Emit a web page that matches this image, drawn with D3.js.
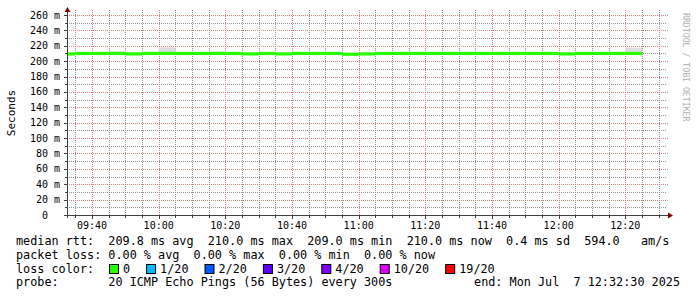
<!DOCTYPE html>
<html>
<head>
<meta charset="utf-8">
<script src="https://cdn.jsdelivr.net/npm/d3@7"></script>
<style>
body{margin:0;background:#fff;}
svg text{font-family:'DejaVu Sans Mono',monospace;white-space:pre;fill:#000;}
</style>
</head>
<body>
<div class="chart"></div>
<script>
// 5 minute slots (start time) of the smokeping rrd
const slotStarts = ['09:30','09:35','09:40','09:45','09:50','09:55','10:00','10:05','10:10','10:15',
                    '10:20','10:25','10:30','10:35','10:40','10:45','10:50','10:55','11:00','11:05',
                    '11:10','11:15','11:20','11:25','11:30','11:35','11:40','11:45','11:50','11:55',
                    '12:00','12:05','12:10','12:15','12:20'];
// median rtt in ms
const medians = [209.4,210.0,210.0,210.0,209.4,210.0,210.0,210.0,210.0,210.0,
                 210.0,209.4,210.0,209.4,210.0,210.0,210.0,209.0,209.4,210.0,
                 210.0,210.0,210.0,210.0,210.0,210.0,210.0,210.0,210.0,210.0,
                 209.4,210.0,210.0,210.0,210.0];
// smoke (spread of the 20 pings) in ms
const smokeLo = [208.8,209.3,209.3,209.4,208.8,209.4,209.5,209.4,209.3,209.3,
                 209.3,208.8,209.3,208.8,209.3,209.3,209.3,208.5,208.8,209.3,
                 209.3,209.3,209.3,209.3,209.3,209.3,209.3,209.3,209.3,209.3,
                 208.8,209.3,209.3,209.3,209.4];
const smokeHi = [210.0,210.6,211.0,212.5,210.0,212.0,218.0,210.6,210.6,212.5,
                 210.6,210.0,210.6,210.0,210.6,210.6,210.6,209.6,210.0,210.6,
                 210.6,210.6,210.6,210.6,210.6,210.6,210.6,210.6,210.6,210.6,
                 210.0,210.6,210.6,210.6,217.5];

const startTime = '2025-07-07 09:32:30';
const endTime = '2025-07-07 12:32:30';

const rttStats = [209.8, 210.0, 209.0, 210.0];
const statNames = ['avg','max','min','now'];
const rttSd = 0.4;
const rttAm = 594.0;
const lossStats = [0, 0, 0, 0];
const lossLabels = ['0','1/20','2/20','3/20','4/20','10/20','19/20'];
const lossColors = ['#26ff00','#00b8ff','#0059ff','#5e00ff','#7e00ff','#dd00ff','#ff0000'];
const probeText = '20 ICMP Echo Pings (56 Bytes) every 300s';
const endText = 'end: Mon Jul  7 12:32:30 2025';

const parseTime = d3.timeParse('%Y-%m-%d %H:%M:%S');
const day = '2025-07-07 ';
const slots = slotStarts.map((s,i)=>{
    const t0 = parseTime(day + s + ':00');
    return {t0:t0, t1:d3.timeMinute.offset(t0,5), med:medians[i], lo:smokeLo[i], hi:smokeHi[i]};
});

const width = 697, height = 297;
const plot = {left:67, right:667, top:15, bottom:215};
const charW = 7.1;
const minorColor = '#959595', majorColor = '#e08080', axisColor = '#404040';

const svg = d3.select('.chart').append('svg')
    .attr('width',width).attr('height',height);

const xScale = d3.scaleTime()
    .domain([parseTime(startTime), parseTime(endTime)])
    .range([plot.left, plot.right]);
const yScale = d3.scaleLinear().domain([0,260]).range([plot.bottom, plot.top]);
const px = v => Math.round(v) + 0.5;

// grid
const grid = svg.append('g').attr('class','grid').attr('stroke-dasharray','1,1');
const yMajor = yScale.ticks(13);
const yMinor = yScale.ticks(26).filter(v=>!yMajor.includes(v));
const xMajor = xScale.ticks(d3.timeMinute.every(20));
const xMinor = xScale.ticks(d3.timeMinute.every(5))
    .filter(t=>!xMajor.some(m=>+m===+t));

grid.append('g').selectAll('line').data(yMinor).join('line')
    .attr('x1',plot.left).attr('x2',plot.right)
    .attr('y1',d=>px(yScale(d))).attr('y2',d=>px(yScale(d)))
    .attr('stroke',minorColor);
grid.append('g').selectAll('line').data(xMinor).join('line')
    .attr('y1',plot.top-5).attr('y2',plot.bottom)
    .attr('x1',d=>px(xScale(d))).attr('x2',d=>px(xScale(d)))
    .attr('stroke',minorColor);
grid.append('g').selectAll('line').data(yMajor.filter(v=>v>0)).join('line')
    .attr('x1',plot.left).attr('x2',plot.right+1)
    .attr('y1',d=>px(yScale(d))).attr('y2',d=>px(yScale(d)))
    .attr('stroke',majorColor);
grid.append('g').selectAll('line').data(xMajor).join('line')
    .attr('y1',plot.top-5).attr('y2',plot.bottom)
    .attr('x1',d=>px(xScale(d))).attr('x2',d=>px(xScale(d)))
    .attr('stroke',majorColor);

// data
svg.append('clipPath').attr('id','clip').append('rect')
    .attr('x',plot.left).attr('y',plot.top-10)
    .attr('width',plot.right-plot.left).attr('height',plot.bottom-plot.top+10);
const data = svg.append('g').attr('clip-path','url(#clip)');

data.selectAll('.smoke').data(slots).join('rect')
    .attr('x',d=>xScale(d.t0)).attr('width',d=>xScale(d.t1)-xScale(d.t0))
    .attr('y',d=>yScale(d.hi)).attr('height',d=>yScale(d.lo)-yScale(d.hi))
    .style('fill','#dddddd');

data.selectAll('.median').data(slots).join('rect')
    .attr('x',d=>xScale(d.t0)).attr('width',d=>xScale(d.t1)-xScale(d.t0))
    .attr('y',d=>yScale(d.med)-1.6).attr('height',3.2)
    .style('fill',lossColors[0]);

// axes
const axis = svg.append('g').attr('class','axis');
axis.append('line').attr('x1',plot.left+0.5).attr('x2',plot.left+0.5)
    .attr('y1',plot.bottom+3).attr('y2',plot.top-6).attr('stroke',axisColor);
axis.append('line').attr('x1',plot.left-3).attr('x2',plot.right+3)
    .attr('y1',plot.bottom+0.5).attr('y2',plot.bottom+0.5).attr('stroke',axisColor);
axis.append('path')
    .attr('d',`M${plot.left+0.5},${plot.top-8} L${plot.left-2.5},${plot.top-3} L${plot.left+3.5},${plot.top-3} Z`)
    .style('fill','#7f0000');
axis.append('path')
    .attr('d',`M${plot.right+6},${plot.bottom+0.5} L${plot.right+1},${plot.bottom-2.5} L${plot.right+1},${plot.bottom+3.5} Z`)
    .style('fill','#7f0000');

// tick marks
axis.selectAll('.yt').data(yScale.ticks(26)).join('line')
    .attr('x1',d=>yMajor.includes(d)?plot.left-3:plot.left-2).attr('x2',plot.left)
    .attr('y1',d=>px(yScale(d))).attr('y2',d=>px(yScale(d)))
    .attr('stroke',axisColor);
axis.selectAll('.xt').data(xScale.ticks(d3.timeMinute.every(5))).join('line')
    .attr('y1',plot.bottom+1).attr('y2',d=>xMajor.some(m=>+m===+d)?plot.bottom+4:plot.bottom+3)
    .attr('x1',d=>px(xScale(d))).attr('x2',d=>px(xScale(d)))
    .attr('stroke',axisColor);

// tick labels
const yLab = svg.append('g').style('font-size','10px');
yLab.selectAll('.num').data(yMajor).join('text')
    .attr('x',48).attr('y',d=>yScale(d)+3.5)
    .attr('text-anchor','end').text(d=>d);
yLab.selectAll('.unit').data(yMajor.filter(v=>v>0)).join('text')
    .attr('x',54).attr('y',d=>yScale(d)+3.5).text('m');

svg.append('g').style('font-size','10px')
    .selectAll('text').data(xMajor).join('text')
    .attr('x',d=>xScale(d)).attr('y',228.5)
    .attr('text-anchor','middle').text(d3.timeFormat('%H:%M'));

svg.append('text').attr('transform','translate(15,113) rotate(-90)')
    .attr('text-anchor','middle').style('font-size','11px').text('Seconds');

svg.append('text').attr('transform','translate(683,13) rotate(90)')
    .style('font-size','8.2px').style('fill','#b0b0b0').text('RRDTOOL / TOBI OETIKER');

// legend
const legend = svg.append('g').style('font-size','11.8px');
const f1 = d3.format('.1f'), f2 = d3.format('.2f');
const rttLine = 'median rtt:  ' + rttStats.map((v,i)=>`${f1(v)} ms ${statNames[i]}`).join('  ')
    + `  ${f1(rttSd)} ms sd  ${f1(rttAm)}   am/s`;
const lossLine = 'packet loss: ' + lossStats.map((v,i)=>`${f2(v)} % ${statNames[i]}`).join('  ');
legend.append('text').attr('x',16).attr('y',245).text(rttLine);
legend.append('text').attr('x',16).attr('y',259).text(lossLine);
legend.append('text').attr('x',16).attr('y',272.5).text('loss color:');
legend.append('text').attr('x',16).attr('y',286).text('probe:       ' + probeText);
legend.append('text').attr('x',680).attr('y',286).attr('text-anchor','end').text(endText);

let lx = 109;
lossLabels.forEach((lab,i)=>{
    legend.append('rect').attr('x',lx+0.5).attr('y',264.5).attr('width',9).attr('height',9)
        .style('fill',lossColors[i]).style('stroke','#000');
    legend.append('text').attr('x',lx+14).attr('y',272.5).text(lab);
    lx += 14 + lab.length*charW + 16;
});
</script>
</body>
</html>
